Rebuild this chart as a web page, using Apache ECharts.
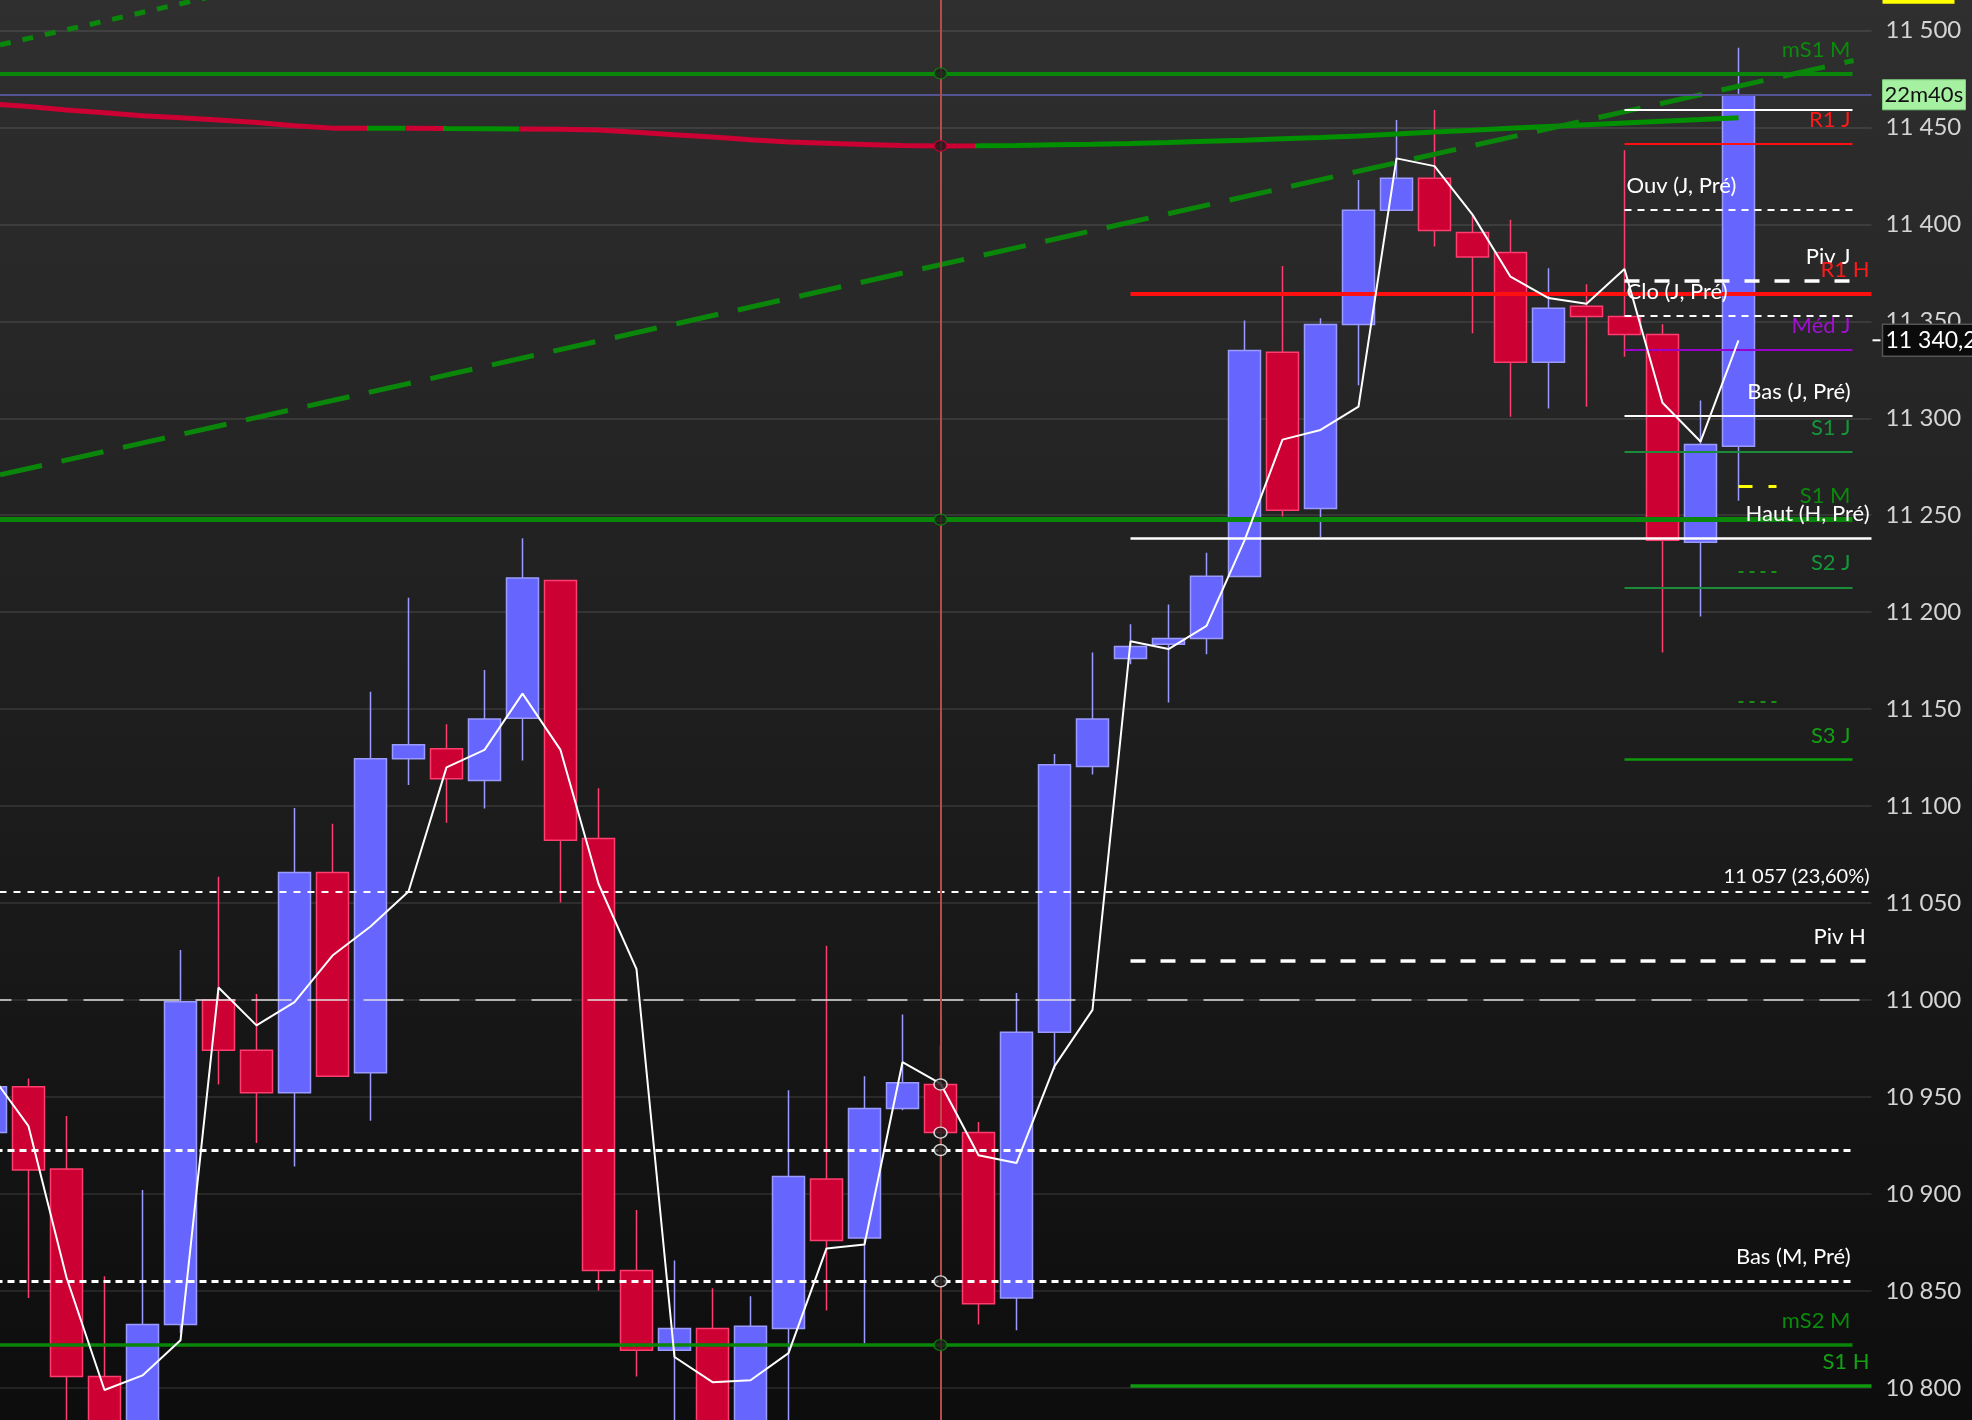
<!DOCTYPE html>
<html><head><meta charset="utf-8">
<script src="https://cdn.jsdelivr.net/npm/echarts@6/dist/echarts.min.js"></script>
<style>html,body{margin:0;padding:0;background:#1e1e1e;}#c{width:1972px;height:1420px;}</style>
</head><body><div id="c"></div>
<script>
// ---------- DATA ----------
const categories = Array.from({length: 50}, (_, i) => 'B' + i);
const openP  = [10931.7,10955.3,10912.9,10805.9,10770,10832.8,11000.1,10974.1,10952.3,11065.8,10962.6,11124.5,11129.6,11113.2,11145.3,11216.4,11083.3,10860.6,10819.5,10830.7,10775,10830.7,10907.8,10877.3,10944.1,10956.5,10931.7,10846.4,10983.5,11120.5,11176.2,11183.5,11186.5,11218.4,11334,11253.5,11348.3,11407.3,11423.7,11395.8,11385.5,11328.9,11357.7,11352.5,11343.2,11236.1,11285.6];
const closeP = [10955.3,10912.4,10805.9,10770,10832.8,10999.2,10974.1,10952.3,11065.8,10960.8,11124.5,11131.7,11114.2,11145,11217.7,11082.4,10860.6,10819.5,10830.7,10775,10831.9,10909,10876.1,10944.1,10957.4,10931.7,10843.4,10983.5,11121.4,11145,11182.3,11186.5,11218.6,11335,11252.6,11348.3,11407.3,11423.7,11396.8,11383.2,11328.9,11356.7,11352.5,11343.2,11237.1,11286.5,11466.8];
const lowP   = [10925,10846.4,10770,10760,10760,10828.2,10956.5,10926.3,10914.2,10960.8,10937.8,11110.9,11091.5,11098.8,11123.6,11050.3,10850.3,10805.9,10770,10770,10770,10770,10840,10823.1,10943.2,10898,10832.8,10829.8,10964.4,11116.3,11173.2,11153.5,11178.3,11218.4,11249.3,11238.8,11317,11407.3,11388.6,11343.9,11300.8,11305,11306,11331.7,11179.2,11197.8,11257.5];
const highP  = [10962,10959.6,10940.2,10857.6,10902.1,11025.8,11063.6,11003.1,11099.1,11090.9,11159,11207.4,11142.3,11170.2,11238.2,11216.4,11109.3,10891.8,10865.8,10851.5,10847.3,10953.5,11028,10960.8,10992.6,10976.5,10937.2,11003.7,11126.9,11179.2,11193.8,11204,11230.7,11350.4,11378.5,11351.6,11422.9,11453.8,11458.9,11404.8,11402.3,11377.3,11369.1,11438.2,11348.5,11309.2,11491];
const priceLine = [10962,10935,10857,10799,10806.5,10824.6,11006.5,10987,10999,11023,11038,11056,11120,11129,11158,11129,11060,11016,10816,10803,10804,10818,10872,10874,10968,10957,10920,10916,10966,10995,11185,11181,11193,11237,11289,11294,11306,11434,11430,11405,11373,11362,11359,11377,11308,11288,11340.2];
const maLine = [11462.2,11460.7,11459,11457.5,11456,11455,11453.8,11452.5,11450.8,11449.6,11449.6,11449.6,11449.4,11449.3,11449.2,11449,11448.6,11447.5,11446.2,11445,11443.6,11442.4,11441.8,11441.2,11440.6,11440.4,11440.5,11440.7,11441,11441.3,11441.7,11442.2,11442.8,11443.4,11444.1,11444.8,11445.6,11446.6,11447.6,11448.5,11449.5,11450.4,11451.3,11452.2,11453.1,11454,11455];
const maColorBreaks = [9.9, 10.9, 11.9, 13.9, 25.9];          // red / green alternation along bars
const trendDashed = [[0.25, 11270.8], [49.03, 11484.5]];
const trendDotted = [[0.25, 11492.5], [7, 11522.7]];

const levelLabels = ['mS1 M','','','R1 J','Ouv (J, Pré)','Piv J','R1 H','Clo (J, Pré)','Méd J','Bas (J, Pré)','S1 J','S1 M','Haut (H, Pré)','S2 J','S3 J','11 057 (23,60%)','Piv H','','','Bas (M, Pré)','mS2 M','S1 H'];
const levelValues = [11477.8,11467,11459,11441.7,11407.5,11371,11364.3,11352.9,11335.5,11301.4,11282.6,11247.7,11238.3,11212.8,11124.1,11056.1,11020.3,11000,10922.7,10855,10822.1,10801.1];
const levelFrom   = [-0.5,-0.5,43,43,43,43,30,43,43,43,43,-0.5,30,43,43,-0.5,30,-0.5,-0.5,-0.5,-0.5,30];
const levelTo     = [49,49.5,49,49,49,49,49.5,49,49,49,49,49,49.5,49,49,49.5,49.4,49.5,49,49,49,49.5];

const shortLevelValues = [11265, 11220.9, 11153.7];
const shortFrom = 46, shortTo = 47;

const markerIndex = 25;
const markerCircleValues = [11477.8, 11440.4, 11247.7, 10956.5, 10931.7, 10922.7, 10855, 10822.1];
const topHiddenLevel = 11522;
const timerText = '22m40s';

// ---------- STYLES ----------
const GREEN = '#0a860a', RED = '#ff1010', WHITE = '#ffffff';
const levelStyles = [
  {c: GREEN, w: 4, t: 'solid', lc: '#0b8a0b', pos: 'end'},
  {c: '#545494', w: 2, t: 'solid'},
  {c: WHITE, w: 2, t: 'solid'},
  {c: RED, w: 2, t: 'solid', lc: '#ff1a1a', pos: 'end'},
  {c: WHITE, w: 2, t: [7, 6], lc: WHITE, pos: 'start'},
  {c: WHITE, w: 3.5, t: [15, 15], lc: WHITE, pos: 'end'},
  {c: RED, w: 4, t: 'solid', lc: '#ff1a1a', pos: 'end'},
  {c: WHITE, w: 2, t: [7, 6], lc: WHITE, pos: 'start'},
  {c: '#9a00cc', w: 2, t: 'solid', lc: '#a010d0', pos: 'end'},
  {c: WHITE, w: 2, t: 'solid', lc: WHITE, pos: 'end'},
  {c: '#1a8c3a', w: 2, t: 'solid', lc: '#16963a', pos: 'end'},
  {c: GREEN, w: 5, t: 'solid', lc: '#0b8a0b', pos: 'end'},
  {c: WHITE, w: 2.5, t: 'solid', lc: WHITE, pos: 'end'},
  {c: '#1a8c3a', w: 2, t: 'solid', lc: '#16963a', pos: 'end'},
  {c: '#0d9a0d', w: 2.5, t: 'solid', lc: '#14a014', pos: 'end'},
  {c: WHITE, w: 2, t: [7, 7], lc: WHITE, pos: 'end', fs: 20, d: 5},
  {c: WHITE, w: 3.5, t: [15, 15], lc: WHITE, pos: 'end'},
  {c: '#e0e0e0', w: 1.5, t: [40, 16]},
  {c: WHITE, w: 3, t: [7, 5]},
  {c: WHITE, w: 3, t: [7, 5], lc: WHITE, pos: 'end'},
  {c: GREEN, w: 3.5, t: 'solid', lc: '#0b8a0b', pos: 'end'},
  {c: '#119a11', w: 3.5, t: 'solid', lc: '#13a013', pos: 'end'}
];
const shortStyles = [
  {c: '#ffff00', w: 3, t: [14, 16]},
  {c: '#159015', w: 2, t: [5, 6]},
  {c: '#159015', w: 2, t: [5, 6]}
];
const circleColors = ['#0a860a', '#cc0033', '#0a860a', '#ffffff', '#ffffff', '#ffffff', '#ffffff', '#0a860a'];
const FONT = 'Lato, "Noto Sans", sans-serif';

// ---------- BUILD ----------
const fmtThousands = v => {
  const s = String(Math.round(v));
  return s.replace(/\B(?=(\d{3})+(?!\d))/g, ' ');
};

const levelLines = levelValues.map((v, i) => {
  const st = levelStyles[i];
  const hasLabel = levelLabels[i] !== '';
  return [
    {
      coord: [levelFrom[i], v],
      lineStyle: {color: st.c, width: st.w, type: st.t},
      label: hasLabel ? {
        show: true,
        formatter: levelLabels[i],
        position: st.pos === 'start' ? 'insideStartTop' : 'insideEndTop',
        color: st.lc, fontSize: st.fs || 22, fontFamily: FONT, distance: [2, st.d || 13]
      } : {show: false}
    },
    {coord: [levelTo[i], v]}
  ];
});
const shortLines = shortLevelValues.map((v, i) => [
  {coord: [shortFrom, v], lineStyle: {color: shortStyles[i].c, width: shortStyles[i].w, type: shortStyles[i].t}, label: {show: false}},
  {coord: [shortTo, v]}
]);

const candleData = openP.map((o, i) => [o, closeP[i], lowP[i], highP[i]]);
const maData = maLine.map((v, i) => [i, v]);
const RED_MA = '#cc0033', GREEN_MA = '#009000';
const b = maColorBreaks;
const maPieces = [
  {lt: b[0], color: RED_MA},
  {gte: b[0], lt: b[1], color: GREEN_MA},
  {gte: b[1], lt: b[2], color: RED_MA},
  {gte: b[2], lt: b[3], color: GREEN_MA},
  {gte: b[3], lt: b[4], color: RED_MA},
  {gte: b[4], color: GREEN_MA}
];

const chart = echarts.init(document.getElementById('c'), null, {renderer: 'canvas'});
const option = {
  animation: false,
  backgroundColor: new echarts.graphic.LinearGradient(0, 0, 0, 1, [
    {offset: 0, color: '#2f2f2f'}, {offset: 1, color: '#0d0d0d'}
  ]),
  grid: {left: -28.5, width: 1900, top: -66.6, height: 1551.6, containLabel: false, outerBoundsMode: 'none'},
  xAxis: [
    {type: 'category', data: categories, boundaryGap: true, show: false},
    {type: 'value', min: -0.5, max: 49.5, show: false}
  ],
  yAxis: {
    type: 'value', position: 'right', min: 10750, max: 11550, interval: 50, scale: true,
    axisLine: {show: true, lineStyle: {color: '#6a6a6a', width: 2}},
    axisTick: {show: true, length: 8, lineStyle: {color: '#6a6a6a', width: 2}},
    axisLabel: {color: '#d4d4d4', fontSize: 24, fontFamily: FONT, margin: 14, formatter: fmtThousands},
    splitLine: {show: true, lineStyle: {color: 'rgba(255,255,255,0.09)', width: 2}}
  },
  visualMap: [{type: 'piecewise', show: false, seriesIndex: 2, dimension: 0, pieces: maPieces}],
  series: [
    {
      type: 'candlestick', xAxisIndex: 0, data: candleData, barWidth: 32, clip: true, z: 2,
      itemStyle: {color: '#6666ff', color0: '#cc0033', borderColor: '#9a9aff', borderColor0: '#ff3d6e', borderWidth: 1.5}
    },
    {
      type: 'line', xAxisIndex: 0, data: priceLine, symbol: 'none', z: 6,
      lineStyle: {color: '#ffffff', width: 2}
    },
    {
      type: 'line', xAxisIndex: 1, data: maData, symbol: 'none', z: 4,
      lineStyle: {width: 5}
    },
    {
      type: 'line', xAxisIndex: 1, data: trendDotted, symbol: 'none', z: 4,
      lineStyle: {color: '#0a860a', width: 5, type: [11, 12]}
    },
    {
      type: 'line', xAxisIndex: 1, data: trendDashed, symbol: 'none', z: 4,
      lineStyle: {color: '#0a860a', width: 5, type: [43, 20]}
    },
    {
      type: 'line', xAxisIndex: 1, data: [], symbol: 'none', z: 5,
      markLine: {
        silent: true, symbol: 'none', animation: false,
        data: levelLines.concat(shortLines).concat([
          {xAxis: markerIndex, lineStyle: {color: '#b84a4a', width: 2, type: 'solid'}, label: {show: false}}
        ])
      }
    },
    {
      type: 'scatter', xAxisIndex: 1, z: 7, symbol: 'circle', symbolSize: [13, 11],
      data: markerCircleValues.map((v, i) => ({
        value: [markerIndex, v],
        itemStyle: {color: '#1c1c1c', borderColor: circleColors[i], borderWidth: 1.5}
      }))
    }
  ]
};
chart.setOption(option);

// axis-side price tags
const lastPrice = priceLine[priceLine.length - 1];
const lastClose = closeP[closeP.length - 1];
const yP = chart.convertToPixel({yAxisIndex: 0}, lastPrice);
const yT = chart.convertToPixel({yAxisIndex: 0}, lastClose);
const yY = chart.convertToPixel({yAxisIndex: 0}, topHiddenLevel);
const axisX = chart.convertToPixel({xAxisIndex: 1}, 49.5);
const priceText = lastPrice.toFixed(1).replace('.', ',').replace(/^(\d+)(\d{3}),/, '$1 $2,');
chart.setOption({
  graphic: [
    {type: 'rect', shape: {x: axisX + 11, y: yY - 16, width: 72, height: 32}, style: {fill: '#ffff00'}, z: 100},
    {type: 'rect', shape: {x: axisX + 11, y: yT - 15, width: 83, height: 30}, style: {fill: '#a6f0a2', stroke: '#7fcf7f', lineWidth: 1}, z: 100},
    {type: 'text', x: axisX + 13, y: yT, style: {text: timerText, fill: '#111', font: '22px ' + FONT, textVerticalAlign: 'middle'}, z: 101},
    {type: 'line', shape: {x1: axisX + 1, y1: yP, x2: axisX + 9, y2: yP}, style: {stroke: '#ffffff', lineWidth: 2}, z: 100},
    {type: 'rect', shape: {x: axisX + 11, y: yP - 16, width: 110, height: 32}, style: {fill: '#0b0b0b', stroke: '#555', lineWidth: 1.5}, z: 100},
    {type: 'text', x: axisX + 14, y: yP, style: {text: priceText, fill: '#ffffff', font: '23px ' + FONT, textVerticalAlign: 'middle'}, z: 101}
  ]
});
</script>
</body></html>
